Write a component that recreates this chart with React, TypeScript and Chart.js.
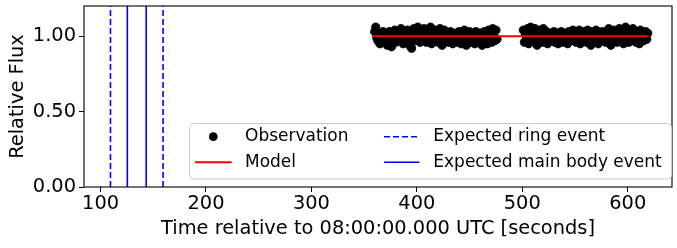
import React, { useEffect, useRef } from "react";
import { Chart, registerables } from "chart.js";

Chart.register(...registerables);

// Observation segment 1: one sample per second from 360 s to 477 s
const obsStart1 = 360;
const obsFlux1: number[] = [
  1.03, 1.06, 0.99, 0.97, 1.02, 0.95, 1.01, 0.98, 1.03,
  0.96, 1.0, 1.02, 0.94, 0.99, 1.03, 0.97, 0.93, 1.01, 0.98,
  1.04, 0.96, 1.0, 1.02, 0.97, 0.99, 1.05, 0.98, 0.95, 1.03,
  1.01, 0.97, 1.04, 0.99, 0.94, 1.02, 0.92, 1.0, 1.05, 0.97,
  1.03, 0.98, 1.06, 1.01, 0.96, 1.04, 0.99, 0.97, 1.05, 1.02,
  0.96, 1.0, 1.04, 0.98, 1.06, 0.95, 1.01, 1.03, 0.97, 1.04,
  1.0, 0.96, 1.03, 1.05, 0.98, 0.94, 1.02, 1.04, 0.99, 0.97,
  1.02, 0.96, 1.0, 1.03, 0.97, 0.95, 1.01, 0.98, 1.02, 0.96,
  1.0, 1.03, 0.97, 0.95, 1.02, 0.99, 1.04, 0.97, 0.94, 1.01,
  0.98, 1.03, 0.96, 1.0, 1.02, 0.97, 0.95, 1.03, 0.99, 1.01,
  0.96, 1.02, 0.98, 0.94, 1.0, 1.03, 0.97, 1.01, 0.95, 1.04,
  0.99, 1.03, 0.96, 1.05, 1.0, 0.97, 1.04, 0.98,
];
// Observation segment 2: one sample per second from 501 s to 619 s
const obsStart2 = 501;
const obsFlux2: number[] = [
  1.04, 0.96, 1.01, 0.98, 1.05, 0.95, 1.02,
  1.06, 0.99, 0.97, 1.03, 1.05, 0.98, 0.94, 1.01, 1.04, 0.99,
  1.02, 0.96, 1.05, 1.0, 0.97, 1.03, 0.95, 1.01, 0.98, 1.02,
  0.97, 1.0, 1.03, 0.96, 0.99, 1.02, 0.95, 1.01, 0.97, 1.03,
  0.99, 0.96, 1.02, 0.98, 1.0, 0.95, 1.03, 0.97, 1.01, 0.99,
  1.04, 0.97, 1.0, 0.96, 1.02, 0.98, 1.04, 0.95, 1.01, 0.99,
  0.97, 1.03, 1.0, 0.96, 1.04, 0.98, 1.02, 0.94, 1.0, 1.03,
  0.97, 1.01, 1.04, 0.98, 0.95, 1.02, 1.0, 0.97, 1.03, 0.99,
  1.01, 0.96, 1.03, 0.99, 1.05, 0.97, 0.94, 1.02, 1.0, 1.04,
  0.98, 1.02, 0.96, 1.0, 1.05, 0.97, 1.03, 0.99, 0.95, 1.02,
  1.06, 0.98, 1.01, 0.96, 1.04, 1.0, 0.97, 1.05, 0.99, 1.02,
  0.96, 1.03, 1.01, 0.95, 1.04, 0.98, 1.02, 0.97, 1.0, 1.03,
  0.98, 1.02,
];

const modelTime: number[] = [358, 620];
const modelFlux: number[] = [1.0, 1.0];

const ringEvents: number[] = [109.4, 159.3];
const mainBodyEvents: number[] = [125.4, 143.3];

const xTicks: number[] = [100, 200, 300, 400, 500, 600];
const yTicks: number[] = [0, 0.5, 1.0];

const X_MIN = 84.3;
const X_MAX = 642;
const Y_MIN = 0;
const Y_MAX = 1.2;

const FONT = "'DejaVu Sans', sans-serif";
const FS = 19.4; // axis labels & tick labels
const LFS = 17; // legend

export default function App() {
  const ref = useRef<HTMLCanvasElement | null>(null);

  useEffect(() => {
    document.body.style.margin = "0";
    const canvas = ref.current;
    if (!canvas) return;

    const obsData = [
      ...obsFlux1.map((y, i) => ({ x: obsStart1 + i, y })),
      ...obsFlux2.map((y, i) => ({ x: obsStart2 + i, y })),
    ];
    const vline = (x: number) => [
      { x, y: Y_MIN },
      { x, y: Y_MAX },
    ];

    const datasets: any[] = [];
    ringEvents.forEach((x) => {
      datasets.push({
        type: "line",
        label: "Expected ring event",
        data: vline(x),
        borderColor: "#0000ff",
        borderWidth: 1.6,
        borderDash: [6, 3],
        pointRadius: 0,
        fill: false,
        order: 0,
      });
    });
    mainBodyEvents.forEach((x) => {
      datasets.push({
        type: "line",
        label: "Expected main body event",
        data: vline(x),
        borderColor: "#0000ff",
        borderWidth: 1.6,
        pointRadius: 0,
        fill: false,
        order: 0,
      });
    });
    datasets.push({
      type: "line",
      label: "Model",
      data: modelTime.map((x, i) => ({ x, y: modelFlux[i] })),
      borderColor: "#ff0000",
      borderWidth: 2,
      pointRadius: 0,
      fill: false,
      order: 1,
    });
    datasets.push({
      type: "scatter",
      label: "Observation",
      data: obsData,
      backgroundColor: "#000000",
      borderColor: "#000000",
      borderWidth: 0.8,
      pointRadius: 4.2,
      order: 2,
    });

    const framePlugin = {
      id: "frame",
      afterDatasetsDraw(chart: any) {
        const { ctx, chartArea: a } = chart;
        ctx.save();
        ctx.strokeStyle = "#000";
        ctx.lineWidth = 1.1;
        ctx.strokeRect(a.left, a.top, a.right - a.left, a.bottom - a.top);
        ctx.restore();
      },
    };

    const legendPlugin = {
      id: "mplLegend",
      afterDraw(chart: any) {
        const ctx = chart.ctx;
        ctx.save();
        const bx = 189.5, by = 123.5, bw = 482, bh = 55.5, r = 4;
        ctx.beginPath();
        ctx.moveTo(bx + r, by);
        ctx.lineTo(bx + bw - r, by);
        ctx.arcTo(bx + bw, by, bx + bw, by + r, r);
        ctx.lineTo(bx + bw, by + bh - r);
        ctx.arcTo(bx + bw, by + bh, bx + bw - r, by + bh, r);
        ctx.lineTo(bx + r, by + bh);
        ctx.arcTo(bx, by + bh, bx, by + bh - r, r);
        ctx.lineTo(bx, by + r);
        ctx.arcTo(bx, by, bx + r, by, r);
        ctx.closePath();
        ctx.fillStyle = "rgba(255,255,255,0.8)";
        ctx.fill();
        ctx.strokeStyle = "#cccccc";
        ctx.lineWidth = 1;
        ctx.stroke();

        const row1 = 136.7, row2 = 162.3;
        ctx.fillStyle = "#000";
        ctx.beginPath();
        ctx.arc(213.3, row1, 4.4, 0, Math.PI * 2);
        ctx.fill();
        ctx.strokeStyle = "#ff0000";
        ctx.lineWidth = 2;
        ctx.beginPath();
        ctx.moveTo(195, row2);
        ctx.lineTo(231.7, row2);
        ctx.stroke();
        ctx.strokeStyle = "#0000ff";
        ctx.lineWidth = 1.6;
        ctx.setLineDash([6, 3]);
        ctx.beginPath();
        ctx.moveTo(384, row1);
        ctx.lineTo(419.5, row1);
        ctx.stroke();
        ctx.setLineDash([]);
        ctx.beginPath();
        ctx.moveTo(384, row2);
        ctx.lineTo(419.5, row2);
        ctx.stroke();

        ctx.fillStyle = "#000";
        ctx.font = `${LFS}px ${FONT}`;
        ctx.textAlign = "left";
        ctx.textBaseline = "middle";
        ctx.fillText("Observation", 245, row1);
        ctx.fillText("Model", 245, row2);
        ctx.fillText("Expected ring event", 433.3, row1);
        ctx.fillText("Expected main body event", 433.3, row2);
        ctx.restore();
      },
    };

    const chart = new Chart(canvas, {
      type: "scatter",
      data: { datasets },
      plugins: [framePlugin, legendPlugin],
      options: {
        responsive: false,
        animation: false,
        devicePixelRatio: 1,
        layout: { padding: { top: 6, right: 1, left: 0, bottom: 0 } },
        plugins: {
          legend: { display: false },
          tooltip: { enabled: false },
        },
        scales: {
          x: {
            type: "linear",
            min: X_MIN,
            max: X_MAX,
            afterBuildTicks: (s: any) => {
              s.ticks = xTicks.map((v) => ({ value: v }));
            },
            afterFit: (s: any) => {
              s.height = 61;
              s.paddingLeft = 0;
              s.paddingRight = 0;
              s.paddingTop = 0;
              s.paddingBottom = 0;
            },
            ticks: {
              color: "#000",
              font: { family: FONT, size: FS },
              padding: 0,
              maxRotation: 0,
              autoSkip: false,
              callback: (v: any) => String(v),
            },
            grid: {
              drawOnChartArea: false,
              drawTicks: true,
              tickLength: 5,
              color: "#000",
              lineWidth: 1,
            },
            border: { display: false },
            title: {
              display: true,
              text: "Time relative to 08:00:00.000 UTC [seconds]",
              color: "#000",
              font: { family: FONT, size: FS },
              padding: { top: 0, bottom: 7 },
            },
          },
          y: {
            type: "linear",
            min: Y_MIN,
            max: Y_MAX,
            afterBuildTicks: (s: any) => {
              s.ticks = yTicks.map((v) => ({ value: v }));
            },
            afterFit: (s: any) => {
              s.width = 84;
              s.paddingLeft = 0;
              s.paddingRight = 0;
              s.paddingTop = 0;
              s.paddingBottom = 0;
            },
            ticks: {
              color: "#000",
              font: { family: FONT, size: FS },
              padding: 3,
              autoSkip: false,
              callback: (v: any) => Number(v).toFixed(2),
            },
            grid: {
              drawOnChartArea: false,
              drawTicks: true,
              tickLength: 5,
              color: "#000",
              lineWidth: 1,
            },
            border: { display: false },
            title: {
              display: true,
              text: "Relative Flux",
              color: "#000",
              font: { family: FONT, size: FS },
              padding: { top: 6, bottom: 0 },
            },
          },
        },
      } as any,
    });

    return () => chart.destroy();
  }, []);

  return (
    <canvas
      ref={ref}
      width={677}
      height={248}
      style={{ display: "block", width: 677, height: 248 }}
    />
  );
}
